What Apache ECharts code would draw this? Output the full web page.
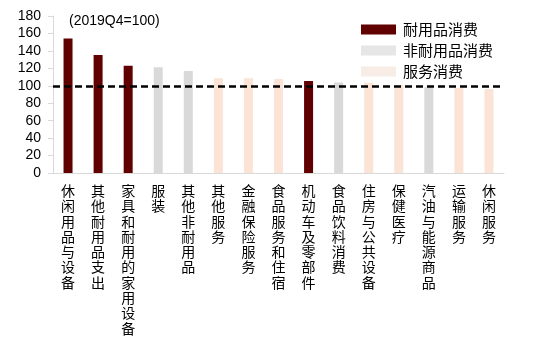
<!DOCTYPE html>
<html><head><meta charset="utf-8">
<script src="https://cdn.jsdelivr.net/npm/echarts@6/dist/echarts.min.js"></script>
<style>html,body{margin:0;padding:0;background:#fff}#c{width:550px;height:352px}</style>
</head><body><div id="c"></div>
<script>
const categories = ['休闲用品与设备','其他耐用品支出','家具和耐用的家用设备','服装','其他非耐用品','其他服务','金融保险服务','食品服务和住宿','机动车及零部件','食品饮料消费','住房与公共设备','保健医疗','汽油与能源商品','运输服务','休闲服务'];
const values = [154.3,135.2,122.9,121.1,116.8,108.5,108.5,107.7,105.4,103.9,103.4,100.8,98.3,97.4,96.2];
const groups = ['耐用品消费','耐用品消费','耐用品消费','非耐用品消费','非耐用品消费','服务消费','服务消费','服务消费','耐用品消费','非耐用品消费','服务消费','服务消费','非耐用品消费','服务消费','服务消费'];
const seriesNames = ['耐用品消费','非耐用品消费','服务消费'];
const seriesColors = ['#600000','#D9D9D9','#FBE3D6'];
const legendColors = ['#600000','#E6E6E6','#F8ECE6'];
const yTicks = {min:0,max:180,interval:20};
const baseLine = 100;
const note = '(2019Q4=100)';

const series = seriesNames.map((n,i)=>({
  name:n, type:'bar', stack:'s', barWidth:9,
  itemStyle:{color:seriesColors[i]},
  data: values.map((v,k)=> groups[k]===n ? v : '-'),
  markLine: i===0 ? {silent:true, symbol:'none', label:{show:false},
    lineStyle:{color:'#000', width:2.7, type:[7,4]}, data:[{yAxis:baseLine}]} : undefined
}));

const chart = echarts.init(document.getElementById('c'));
chart.setOption({
  animation:false,
  textStyle:{fontFamily:'Liberation Sans, Arial, "Noto Sans CJK SC", sans-serif'},
  title:{text:note, left:64, top:9, textStyle:{fontSize:14, fontWeight:'normal', color:'#000', fontFamily:'Liberation Sans, Arial'}},
  legend:{orient:'vertical', right:52, top:17, itemWidth:35, itemHeight:10, itemGap:6,
    icon:'rect', data:seriesNames.map((n,i)=>({name:n, itemStyle:{color:legendColors[i]}})),
    textStyle:{fontSize:15, color:'#000', fontFamily:'"Noto Sans CJK SC", sans-serif', padding:[0,0,0,2]}},
  grid:{left:53, right:46, top:16, bottom:179},
  xAxis:{type:'category', data:categories,
    axisLine:{lineStyle:{color:'#D9D9D9'}},
    axisTick:{inside:true, length:4, lineStyle:{color:'#D9D9D9'}},
    axisLabel:{interval:0, color:'#000', fontSize:14, lineHeight:15.3, verticalAlign:'top', margin:10,
      fontFamily:'"Noto Sans CJK SC", sans-serif',
      formatter:v=>v.split('').join('\n')}},
  yAxis:{type:'value', min:yTicks.min, max:yTicks.max, interval:yTicks.interval,
    splitLine:{show:false},
    axisLine:{show:true, lineStyle:{color:'#D9D9D9'}},
    axisTick:{show:true, length:5, lineStyle:{color:'#D9D9D9'}},
    axisLabel:{color:'#000', fontSize:14, margin:12}},
  series
});
</script></body></html>
